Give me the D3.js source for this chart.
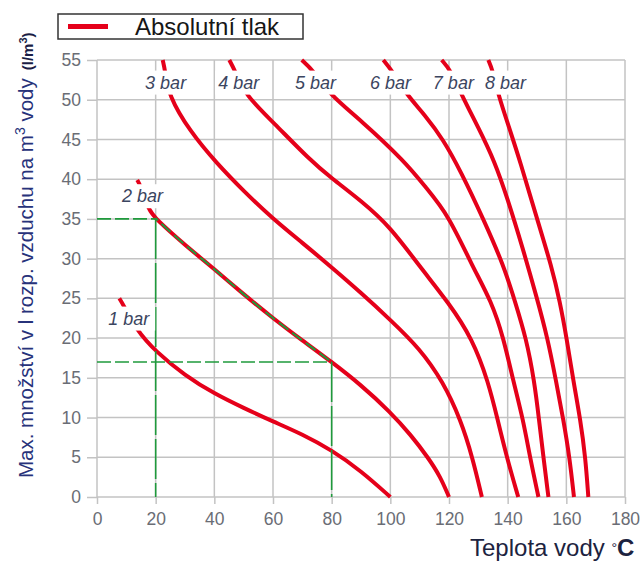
<!DOCTYPE html>
<html>
<head>
<meta charset="utf-8">
<script src="https://cdn.jsdelivr.net/npm/d3@7.9.0/dist/d3.min.js"></script>
<style>
  body { margin: 0; background: #fff; }
  svg { display: block; font-family: "Liberation Sans", Arial, sans-serif; }
</style>
</head>
<body>
<svg id="chart" width="644" height="567"></svg>
<script>
// absolute pressure curves: [water temperature °C, max. air l/m3]
const pressures = ['1 bar', '2 bar', '3 bar', '4 bar', '5 bar', '6 bar', '7 bar', '8 bar'];
const bar1 = [[7.6,25],[8.8,24.3],[13.3,21.1],[20,18.3],[30,15.3],[40,13],[50,11.2],[60,9.5],[70,7.9],[80,5.9],[90,3.3],[100,0]];
const bar2 = [[13.7,39.9],[14.7,39.3],[17.5,36.2],[20,35],[30,31.7],[40,28.7],[50,25.5],[60,22.5],[70,19.7],[80,17],[90,14.1],[100,10.7],[107,7.8],[112.8,5],[117,2.6],[120,0]];
const bar3 = [[22.4,55],[23.2,53.7],[24.3,50.6],[31.7,46],[40.8,42],[50,38.5],[60,35],[70,32],[80,28.9],[90,25.7],[100,22.3],[110,18.7],[118,14.5],[124,9.7],[128,5],[131.2,0]];
const bar4 = [[45.1,55],[47,53.7],[50.5,50.6],[60,47.2],[72.6,42.4],[80,40.1],[90,37.3],[100,34],[110,29],[120,24.4],[128,19.9],[133.4,14.5],[136.6,9.7],[139.7,5],[143.6,0]];
const bar5 = [[69.8,55],[73.7,53.7],[79.4,50.6],[89.7,47.5],[105,42.2],[112,39],[119.8,35.5],[128,29],[134.5,24.6],[138.6,20],[141.9,14.6],[145.3,9.7],[147.6,5],[150.5,0]];
const bar6 = [[97.6,55],[100.5,53.7],[105.6,50.6],[112,48],[118,45],[124,41],[131.7,35],[138.8,29],[142.5,24.6],[146.3,20],[149.1,14.6],[150.7,9.7],[152.2,5],[153.9,0]];
const bar7 = [[117.5,55],[120.6,53.7],[124.3,50.6],[130,46.5],[135.5,42.3],[140,37.5],[145,31.5],[150,25],[153.6,20],[156.5,14.6],[159,9.7],[161.1,5],[162.6,0]];
const bar8 = [[133.4,55],[134.9,53.7],[136.8,50.6],[140.5,46.5],[144.2,42.3],[150,35],[155,29],[157.8,24.6],[160.1,20],[162.4,14.6],[164.8,9.7],[166.5,5],[167.5,0]];
const curves = [bar1, bar2, bar3, bar4, bar5, bar6, bar7, bar8];

// where the "N bar" labels sit (data units, left end + baseline)
const labelX = [3.8, 8.5, 16.4, 41.3, 67.5, 93.1, 114.5, 132.3];
const labelY = [21.7, 37.1, 51.4, 51.4, 51.4, 51.4, 51.4, 51.4];

// reading example on the 2 bar curve
const guideX = [20, 80];
const guideY = [35, 17];

const xTicks = d3.range(0, 181, 20);
const yTicks = d3.range(0, 56, 5);

const svg = d3.select('#chart');
const x = d3.scaleLinear().domain([0, 180]).range([97, 625]);
const y = d3.scaleLinear().domain([0, 55]).range([497, 60]);

const red = '#e5001a';
const green = '#1f9a3c';
const gridColor = '#c3c3c3';

// grid
const grid = svg.append('g');
grid.selectAll('.vg').data(xTicks).join('line')
  .attr('x1', d => x(d)).attr('x2', d => x(d))
  .attr('y1', y(0)).attr('y2', y(55))
  .attr('stroke', gridColor).attr('stroke-width', 1.5);
grid.selectAll('.hg').data(yTicks).join('line')
  .attr('x1', x(0)).attr('x2', x(180))
  .attr('y1', d => y(d)).attr('y2', d => y(d))
  .attr('stroke', gridColor).attr('stroke-width', 1.5);

// axes (ticks + labels)
const xAxis = svg.append('g')
  .attr('transform', `translate(0,${y(0)})`)
  .call(d3.axisBottom(x).tickValues(xTicks).tickSize(7).tickPadding(9));
const yAxis = svg.append('g')
  .attr('transform', `translate(${x(0)},0)`)
  .call(d3.axisLeft(y).tickValues(yTicks).tickSize(10).tickPadding(6));
[xAxis, yAxis].forEach(a => {
  a.select('.domain').remove();
  a.selectAll('line').attr('stroke', gridColor).attr('stroke-width', 1.5);
  a.selectAll('text')
    .attr('fill', '#6a6d75')
    .style('font-size', '17.5px')
    .style('font-family', '"Liberation Sans", Arial, sans-serif');
});

// pressure curves (smoothed through the read points)
const line = d3.line()
  .x(d => x(d[0]))
  .y(d => y(d[1]))
  .curve(d3.curveBasis);

svg.append('g').selectAll('path').data(curves).join('path')
  .attr('d', line)
  .attr('fill', 'none')
  .attr('stroke', red)
  .attr('stroke-width', 4);

// green guide lines
svg.append('clipPath').attr('id', 'guideClip')
  .append('rect')
  .attr('x', x(guideX[0])).attr('y', y(55))
  .attr('width', x(guideX[1]) - x(guideX[0]))
  .attr('height', y(0) - y(55));

svg.append('path')
  .attr('d', line(bar2))
  .attr('clip-path', 'url(#guideClip)')
  .attr('fill', 'none')
  .attr('stroke', green)
  .attr('stroke-width', 2)
  .attr('stroke-dasharray', '12,5');

const guides = svg.append('g').attr('stroke', green).attr('stroke-width', 1.6);
guideX.forEach((gx, i) => {
  guides.append('line')
    .attr('x1', x(0)).attr('x2', x(gx))
    .attr('y1', y(guideY[i])).attr('y2', y(guideY[i]))
    .attr('stroke-dasharray', '14,4');
  guides.append('line')
    .attr('x1', x(gx)).attr('x2', x(gx))
    .attr('y1', y(guideY[i])).attr('y2', y(0))
    .attr('stroke-dasharray', '40,4');
});

// curve labels on white boxes (they cut the curves and grid)
const labels = svg.append('g');
pressures.forEach((p, i) => {
  const g = labels.append('g');
  const bg = g.append('rect').attr('fill', '#fff');
  const t = g.append('text')
    .attr('x', x(labelX[i]))
    .attr('y', y(labelY[i]))
    .attr('fill', '#3b4560')
    .style('font-size', '18px')
    .style('font-style', 'italic')
    .text(p);
  const b = t.node().getBBox();
  bg.attr('x', b.x - 3).attr('width', b.width + 8)
    .attr('y', y(labelY[i]) - 18).attr('height', 24);
});

// legend
const legend = svg.append('g');
legend.append('rect')
  .attr('x', 58).attr('y', 14).attr('width', 245).attr('height', 25)
  .attr('fill', '#fff').attr('stroke', '#333').attr('stroke-width', 1.5);
legend.append('line')
  .attr('x1', 68).attr('x2', 108).attr('y1', 26.5).attr('y2', 26.5)
  .attr('stroke', red).attr('stroke-width', 5);
legend.append('text')
  .attr('x', 135).attr('y', 35)
  .attr('fill', '#161616')
  .style('font-size', '24px')
  .text('Absolutní tlak');

// axis titles
const xt = svg.append('text')
  .attr('x', 470).attr('y', 556)
  .attr('fill', '#1c2340')
  .style('font-size', '24px');
xt.append('tspan').text('Teplota vody ');
xt.append('tspan').style('font-size', '14px').attr('dy', -3).text('°');
xt.append('tspan').style('font-weight', 'bold').attr('dy', 3).text('C');

const yt = svg.append('text')
  .attr('transform', 'translate(33,478) rotate(-90)')
  .attr('fill', '#27327a')
  .style('font-size', '20.5px');
yt.append('tspan').text('Max. množství v l rozp. vzduchu na m');
yt.append('tspan').style('font-size', '14px').attr('dy', -8).text('3');
yt.append('tspan').attr('dy', 8).text(' vody');
yt.append('tspan').attr('dx', 8).attr('fill', '#1a1d45')
  .style('font-weight', 'bold').style('font-size', '15px').text('(l/m');
yt.append('tspan').attr('fill', '#1a1d45').attr('dy', -6)
  .style('font-weight', 'bold').style('font-size', '11px').text('3');
yt.append('tspan').attr('fill', '#1a1d45').attr('dy', 6)
  .style('font-weight', 'bold').style('font-size', '15px').text(')');
</script>
</body>
</html>
